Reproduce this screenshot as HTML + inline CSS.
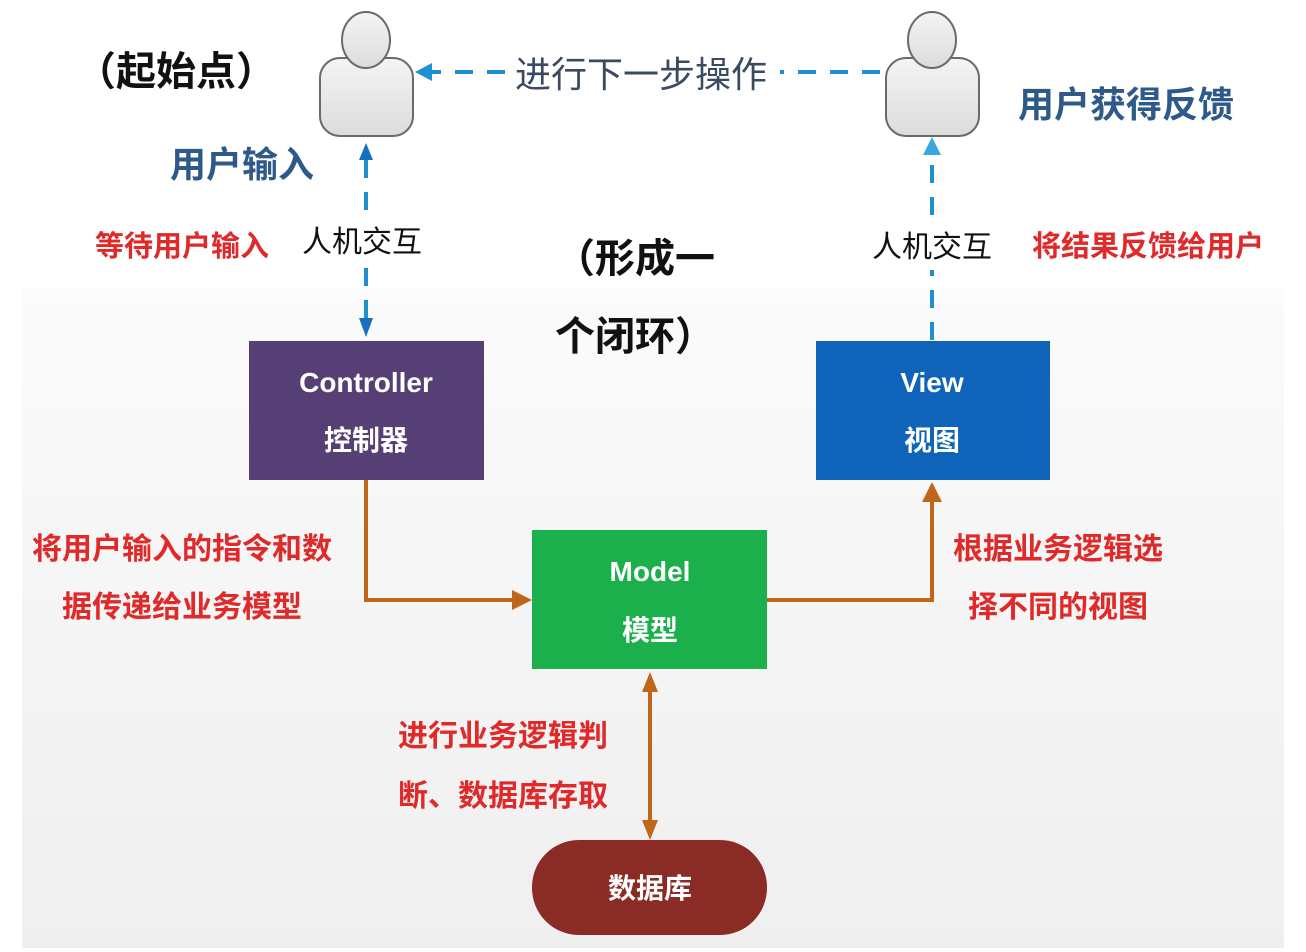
<!DOCTYPE html>
<html><head><meta charset="utf-8"><style>
html,body{margin:0;padding:0;background:#fff;}
svg{display:block;}
text{font-family:"Liberation Sans","Noto Sans CJK SC",sans-serif;}
</style></head><body>
<svg width="1306" height="952" viewBox="0 0 1306 952" xmlns="http://www.w3.org/2000/svg">
<defs>
<linearGradient id="bg" x1="0" y1="0" x2="0" y2="1">
<stop offset="0" stop-color="#fbfbfb"/><stop offset="1" stop-color="#efefef"/></linearGradient>
<linearGradient id="pg" x1="0" y1="0" x2="0" y2="1">
<stop offset="0" stop-color="#f4f4f4"/><stop offset="1" stop-color="#dcdcdc"/></linearGradient>
</defs>
<rect x="22" y="288" width="1262" height="660" fill="url(#bg)"/>
<g stroke="#6a6a6a" stroke-width="2" fill="url(#pg)">
<rect x="320" y="58" width="93" height="78" rx="20"/>
<ellipse cx="366" cy="40" rx="24" ry="28"/>
<rect x="886" y="58" width="93" height="78" rx="20"/>
<ellipse cx="932" cy="40" rx="24" ry="28"/>
</g>
<g stroke="#1e90d0" stroke-width="4" stroke-dasharray="18,14" fill="none">
<line x1="880" y1="72" x2="780" y2="72"/>
<line x1="505" y1="72" x2="430" y2="72"/>
<line x1="366" y1="160" x2="366" y2="215"/>
<line x1="366" y1="268" x2="366" y2="318"/>
<line x1="932" y1="340" x2="932" y2="270"/>
<line x1="932" y1="215" x2="932" y2="155"/>
</g>
<polygon points="415,72 432,63 432,81" fill="#1e90d0"/>
<polygon points="366,143 359,160 373,160" fill="#1570c0"/>
<polygon points="366,337 359,318 373,318" fill="#1570c0"/>
<polygon points="932,137 923,155 941,155" fill="#3aa8e0"/>
<g stroke="#c0661a" stroke-width="4" fill="none">
<polyline points="366,480 366,600 515,600"/>
<polyline points="767,600 932,600 932,500"/>
<line x1="650" y1="690" x2="650" y2="822"/>
</g>
<polygon points="532,600 512,590 512,610" fill="#c0661a"/>
<polygon points="932,482 922,502 942,502" fill="#c0661a"/>
<polygon points="650,672 642,692 658,692" fill="#c0661a"/>
<polygon points="650,840 642,820 658,820" fill="#c0661a"/>
<rect x="249" y="341" width="235" height="139" fill="#553f74"/>
<rect x="816" y="341" width="234" height="139" fill="#0f64ba"/>
<rect x="532" y="530" width="235" height="139" fill="#1bb04c"/>
<rect x="532" y="840" width="235" height="95" rx="47" fill="#8b2b25"/>
<g fill="#fff" font-weight="bold" text-anchor="middle">
<text x="366" y="392" font-size="28">Controller</text>
<text x="366" y="450" font-size="28">控制器</text>
<text x="932" y="392" font-size="28">View</text>
<text x="932" y="450" font-size="28">视图</text>
<text x="650" y="581" font-size="28">Model</text>
<text x="650" y="640" font-size="28">模型</text>
<text x="650" y="898" font-size="28">数据库</text>
</g>
<g font-weight="bold">
<text x="76" y="85" font-size="40" fill="#111">（起始点）</text>
<text x="515" y="87" font-size="36" fill="#3a4a60" font-weight="normal">进行下一步操作</text>
<text x="1018" y="117" font-size="36" fill="#2e5a8a">用户获得反馈</text>
<text x="170" y="177" font-size="36" fill="#2e5a8a">用户输入</text>
<text x="95" y="256" font-size="29" fill="#e02a2a">等待用户输入</text>
<text x="302" y="252" font-size="30" fill="#111" font-weight="normal">人机交互</text>
<text x="872" y="257" font-size="30" fill="#111" font-weight="normal">人机交互</text>
<text x="1032" y="256" font-size="29" fill="#e02a2a">将结果反馈给用户</text>
<text x="555" y="272" font-size="40" fill="#111">（形成一</text>
<text x="555" y="350" font-size="40" fill="#111">个闭环）</text>
<text x="32" y="559" font-size="30" fill="#e02a2a">将用户输入的指令和数</text>
<text x="62" y="617" font-size="30" fill="#e02a2a">据传递给业务模型</text>
<text x="953" y="559" font-size="30" fill="#e02a2a">根据业务逻辑选</text>
<text x="968" y="617" font-size="30" fill="#e02a2a">择不同的视图</text>
<text x="398" y="746" font-size="30" fill="#e02a2a">进行业务逻辑判</text>
<text x="398" y="806" font-size="30" fill="#e02a2a">断、数据库存取</text>
</g>
</svg>
</body></html>
